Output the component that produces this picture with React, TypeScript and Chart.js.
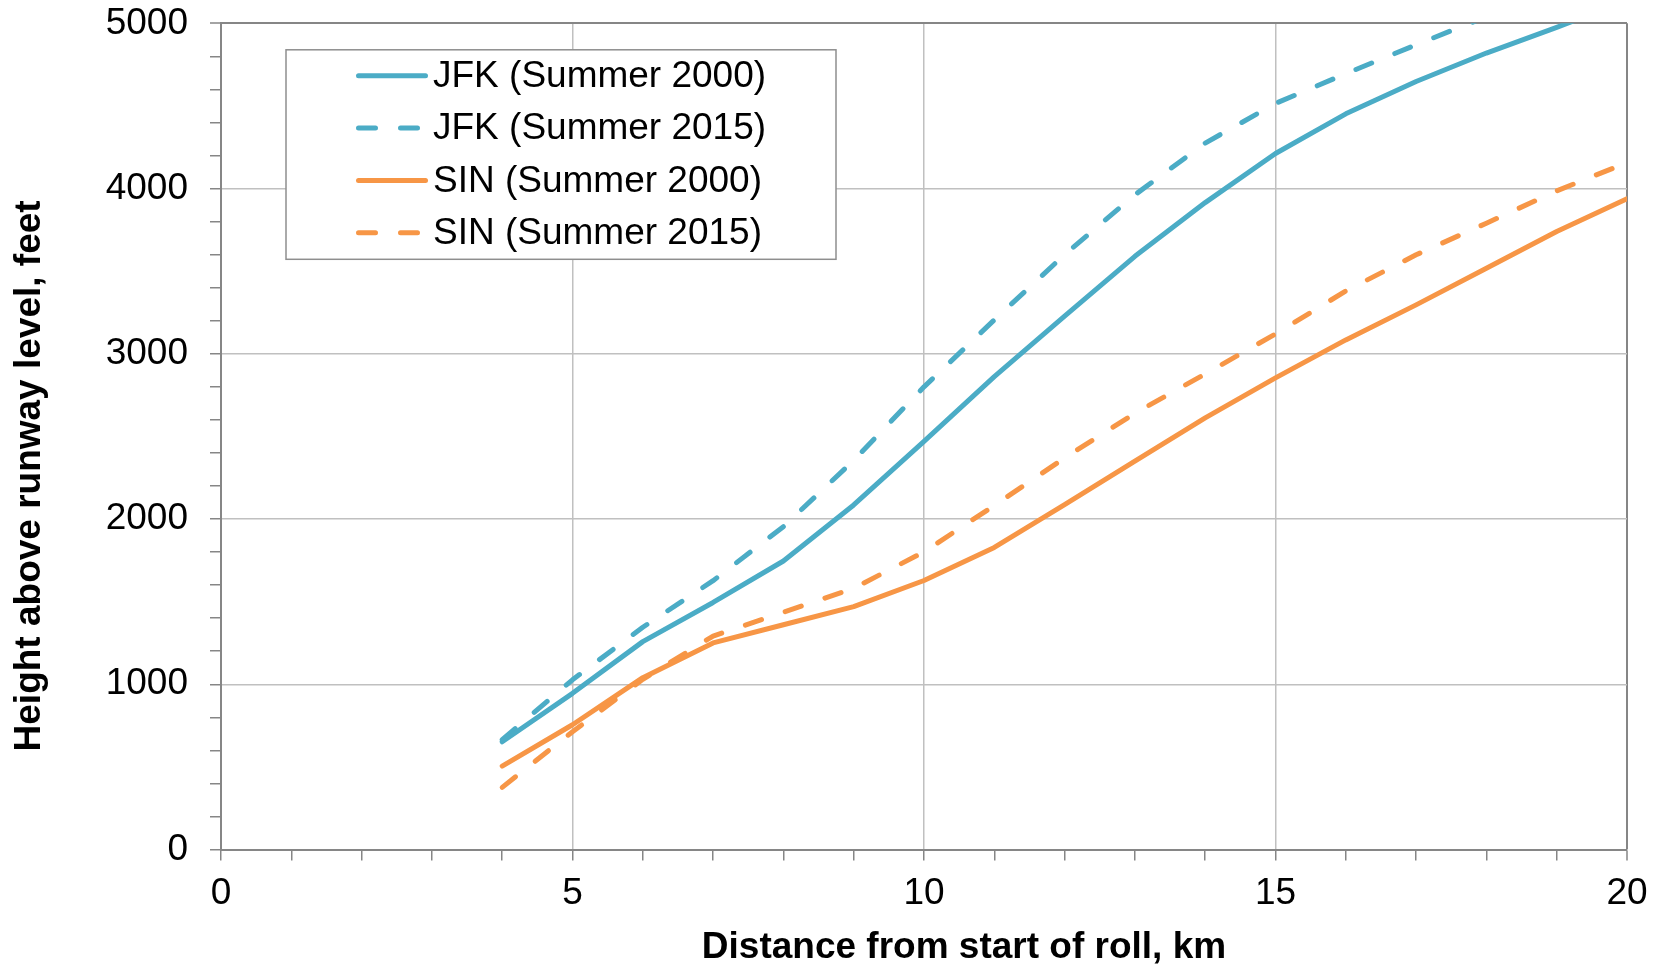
import React, { useEffect, useRef } from 'react';
import { Chart, registerables } from 'chart.js';

Chart.register(...registerables);

// ---- data ----
const distanceKm = [4, 5, 6, 7, 8, 9, 10, 11, 12, 13, 14, 15, 16, 17, 18, 19, 20];
const jfk2000 = [652, 945, 1258, 1495, 1746, 2085, 2470, 2862, 3228, 3590, 3915, 4212, 4452, 4648, 4820, 4975, 5140];
const jfk2015 = [665, 1027, 1345, 1627, 1954, 2355, 2800, 3205, 3600, 3962, 4275, 4515, 4695, 4870, 5040];
const sin2000 = [505, 755, 1040, 1250, 1360, 1470, 1628, 1828, 2087, 2350, 2612, 2854, 3084, 3296, 3518, 3740, 3938];
const sin2015 = [376, 713, 1030, 1292, 1436, 1581, 1801, 2082, 2370, 2640, 2878, 3120, 3380, 3599, 3790, 3986, 4157];

const seriesLabels = ['JFK (Summer 2000)', 'JFK (Summer 2015)', 'SIN (Summer 2000)', 'SIN (Summer 2015)'];
const xTickLabels = ['0', '5', '10', '15', '20'];
const yTickLabels = ['0', '1000', '2000', '3000', '4000', '5000'];
const xAxisTitle = 'Distance from start of roll, km';
const yAxisTitle = 'Height above runway level, feet';

// ---- styles ----
const FONT = "'Liberation Sans', Arial, sans-serif";
const BLUE = '#4bacc6';
const ORANGE = '#f79646';
const GRID = '#c0c0c0';
const AXIS = '#868686';
const DASH = [17, 25];
const LINE_W = 5;

const toPoints = (ys: number[]) => ys.map((y, i) => ({ x: distanceKm[i], y }));

const legendPlugin = {
  id: 'boxLegend',
  afterDraw(chart: any) {
    const { ctx, chartArea } = chart;
    const left = chartArea.left + 65;
    const top = chartArea.top + 26.5;
    const right = chartArea.left + 615;
    const bottom = chartArea.top + 236;
    ctx.save();
    ctx.fillStyle = '#ffffff';
    ctx.fillRect(left, top, right - left, bottom - top);
    ctx.strokeStyle = '#8e8e8e';
    ctx.lineWidth = 1.5;
    ctx.strokeRect(left, top, right - left, bottom - top);
    const rowH = 52.3;
    const firstY = top + 26;
    chart.data.datasets.forEach((ds: any, i: number) => {
      const y = firstY + i * rowH;
      ctx.beginPath();
      ctx.strokeStyle = ds.borderColor;
      ctx.lineWidth = ds.borderWidth;
      ctx.lineCap = 'round';
      ctx.setLineDash(ds.borderDash || []);
      ctx.moveTo(left + 72.5, y);
      ctx.lineTo(left + 139.5, y);
      ctx.stroke();
      ctx.setLineDash([]);
      ctx.fillStyle = '#000000';
      ctx.font = `37px ${FONT}`;
      ctx.textAlign = 'left';
      ctx.textBaseline = 'middle';
      ctx.fillText(ds.label, left + 147, y + 1);
    });
    ctx.restore();
  },
};

const axisTitlesPlugin = {
  id: 'axisTitles',
  afterDraw(chart: any) {
    const { ctx, chartArea } = chart;
    ctx.save();
    ctx.fillStyle = '#000000';
    ctx.font = `bold 37px ${FONT}`;
    ctx.textAlign = 'center';
    ctx.textBaseline = 'alphabetic';
    ctx.fillText(xAxisTitle, (chartArea.left + chartArea.right) / 2 + 40, chartArea.bottom + 108);
    ctx.translate(40, (chartArea.top + chartArea.bottom) / 2 + 39.5);
    ctx.rotate(-Math.PI / 2);
    ctx.fillText(yAxisTitle, 0, 0);
    ctx.restore();
  },
};

export default function App() {
  const canvasRef = useRef<HTMLCanvasElement | null>(null);

  useEffect(() => {
    if (!canvasRef.current) return;
    const chart = new Chart(canvasRef.current, {
      type: 'line',
      data: {
        datasets: [
          { label: seriesLabels[0], data: toPoints(jfk2000), borderColor: BLUE, borderDash: [] },
          { label: seriesLabels[1], data: toPoints(jfk2015), borderColor: BLUE, borderDash: DASH },
          { label: seriesLabels[2], data: toPoints(sin2000), borderColor: ORANGE, borderDash: [] },
          { label: seriesLabels[3], data: toPoints(sin2015), borderColor: ORANGE, borderDash: DASH },
        ].map((d) => ({
          ...d,
          borderWidth: LINE_W,
          pointRadius: 0,
          pointHoverRadius: 0,
          fill: false,
          tension: 0,
          borderCapStyle: 'round',
          borderJoinStyle: 'round',
          clip: 0,
        })) as any,
      },
      options: {
        animation: false,
        responsive: true,
        maintainAspectRatio: false,
        devicePixelRatio: 1,
        layout: { padding: { top: 23.3, right: 36, bottom: 0, left: 0 } },
        plugins: { legend: { display: false }, tooltip: { enabled: false }, title: { display: false } },
        scales: {
          x: {
            type: 'linear',
            min: 0,
            max: 20,
            ticks: {
              stepSize: 1,
              autoSkip: false,
              maxRotation: 0,
              padding: 11.5,
              color: '#000000',
              font: { family: FONT, size: 37 },
              callback: (v: any) => (xTickLabels.includes(String(v)) ? String(v) : ''),
            },
            grid: {
              color: (c: any) =>
                c.tick && c.tick.value % 5 === 0 ? (c.tick.value === 20 ? AXIS : GRID) : 'rgba(0,0,0,0)',
              lineWidth: (c: any) => (c.tick && c.tick.value === 20 ? 2 : 1.5),
              tickColor: AXIS,
              tickWidth: 1.5,
              tickLength: 11,
            },
            border: { display: true, color: AXIS, width: 2 },
            afterFit: (s: any) => {
              s.height = 115.5;
              s.paddingLeft = 0;
              s.paddingRight = 0;
            },
          },
          y: {
            type: 'linear',
            min: 0,
            max: 5000,
            ticks: {
              stepSize: 200,
              autoSkip: false,
              padding: 22,
              color: '#000000',
              font: { family: FONT, size: 37 },
              callback: (v: any) => (yTickLabels.includes(String(v)) ? String(v) : ''),
            },
            grid: {
              color: (c: any) =>
                c.tick && c.tick.value % 1000 === 0 ? (c.tick.value === 5000 ? AXIS : GRID) : 'rgba(0,0,0,0)',
              lineWidth: (c: any) => (c.tick && c.tick.value === 5000 ? 2 : 1.5),
              tickColor: AXIS,
              tickWidth: 1.5,
              tickLength: 11,
            },
            border: { display: true, color: AXIS, width: 2 },
            afterFit: (s: any) => {
              s.width = 221;
              s.paddingTop = 0;
              s.paddingBottom = 0;
            },
          },
        },
      },
      plugins: [legendPlugin, axisTitlesPlugin],
    });
    return () => chart.destroy();
  }, []);

  return (
    <div style={{ position: 'fixed', left: 0, top: 0, width: 1663, height: 965, background: '#ffffff' }}>
      <canvas ref={canvasRef} />
    </div>
  );
}
